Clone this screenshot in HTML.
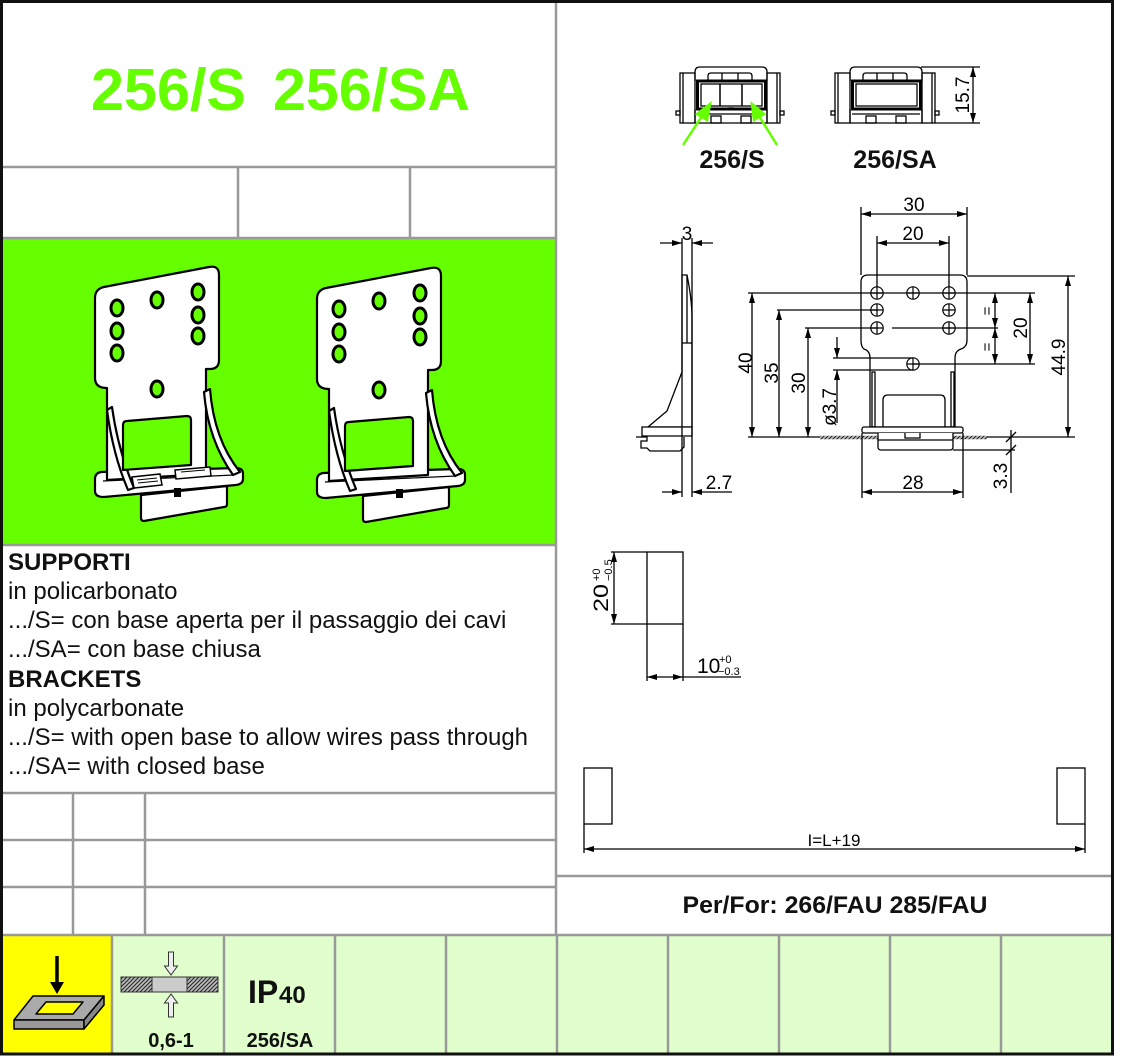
<!DOCTYPE html>
<html><head><meta charset="utf-8"><style>
html,body{margin:0;padding:0;background:#fff}
svg{display:block}
text{font-family:"Liberation Sans",Arial,sans-serif}
</style></head><body>
<svg width="1122" height="1063" viewBox="0 0 1122 1063" xmlns="http://www.w3.org/2000/svg">
<defs>
<marker id="a" viewBox="0 0 10 6" refX="10" refY="3" markerWidth="10" markerHeight="6" orient="auto-start-reverse" markerUnits="userSpaceOnUse"><path d="M0,0 L10,3 L0,6 Z" fill="#000"/></marker>
<pattern id="h" patternUnits="userSpaceOnUse" width="4" height="4"><rect width="4" height="4" fill="#bbb"/><path d="M-1,1 L1,-1 M0,4 L4,0 M3,5 L5,3" stroke="#222" stroke-width="1"/></pattern>
<g id="br" stroke="#000" stroke-width="2.2" stroke-linejoin="round">
 <path d="M141,495 L227,486 L227,504 Q227,507 224,507 L144,521 Q141,521 141,518 Z" fill="#fff"/>
 <path d="M95,479 Q95,473 101,472 L236,468 Q243,468 243,474 L243,479 Q243,484 236,485 L104,497 Q95,497 95,491 Z" fill="#fff"/>
 <path d="M103,481 L234,475" fill="none" stroke-width="1.2"/>
 <path d="M95,298 Q95,289 104,287 L209,267 Q219,265 219,275 L219,360 Q219,369 210,369 L206,369 L206,474 L107,480 L107,388 Q95,388 95,378 Z" fill="#fff"/>
 <path d="M204,392 L210,389 Q214,440 240,472 L233,475 Q208,440 204,392 Z" fill="#fff"/>
 <path d="M107,410 L112,407 Q118,450 134,488 L128,490 Q113,455 107,410 Z" fill="#fff"/>
 <path d="M123,425 Q123,421 127,421 L187,416 Q191,416 191,420 L191,465 L123,470 Z" fill="#66ff00"/>
 <g fill="#66ff00" stroke-width="3">
  <ellipse cx="117" cy="308" rx="6" ry="8"/>
  <ellipse cx="117" cy="331" rx="6" ry="8"/>
  <ellipse cx="117" cy="353" rx="6" ry="8"/>
  <ellipse cx="157" cy="300" rx="6" ry="8"/>
  <ellipse cx="198" cy="292" rx="6" ry="8"/>
  <ellipse cx="198" cy="315" rx="6" ry="8"/>
  <ellipse cx="198" cy="336" rx="6" ry="8"/>
  <ellipse cx="157" cy="389" rx="6" ry="8"/>
 </g>
</g>
<g id="hole" stroke="#000" stroke-width="1.2" fill="none"><circle cx="0" cy="0" r="6.2"/><path d="M-6.2,0 H6.2 M0,-6.2 V6.2"/></g>
</defs>

<rect width="1122" height="1063" fill="#fff"/>

<!-- green photo area -->
<rect x="2" y="238" width="554" height="307" fill="#66ff00"/>
<!-- bottom cells -->
<rect x="112" y="935" width="1000" height="119" fill="#e0ffcc"/>
<rect x="2" y="935" width="110" height="119" fill="#ffff00"/>

<!-- grid lines -->
<g stroke="#999" stroke-width="2.5" fill="none">
 <path d="M556,0 V935"/>
 <path d="M0,167 H556 M238,167 V238 M410,167 V238"/>
 <path d="M0,238 H556 M0,545 H556"/>
 <path d="M0,793 H556 M0,840 H556 M0,887 H556 M73,793 V935 M145,793 V935"/>
 <path d="M556,876 H1112"/>
 <path d="M0,935 H1112"/>
 <path d="M112,935 V1054 M224,935 V1054 M335,935 V1054 M446,935 V1054 M557,935 V1054 M668,935 V1054 M779,935 V1054 M890,935 V1054 M1001,935 V1054"/>
</g>

<!-- title -->
<text x="91" y="110" font-size="59" font-weight="bold" fill="#66ff00" textLength="155" lengthAdjust="spacingAndGlyphs">256/S</text>
<text x="273" y="110" font-size="59" font-weight="bold" fill="#66ff00" textLength="197" lengthAdjust="spacingAndGlyphs">256/SA</text>

<!-- brackets -->
<use href="#br"/>
<g stroke="#000" stroke-width="1.5" fill="#fff">
 <path d="M132,477 L160,474 L162,485 L134,488 Z"/>
 <path d="M175,470 L210,467 L211,476 L176,479 Z"/>
 <path d="M137,480 L157,478 M138,483 L158,481 M181,472 L205,470" fill="none" stroke-width="1"/>
</g>
<rect x="174" y="488" width="7" height="9" fill="#000"/>
<use href="#br" transform="translate(222,1)"/>
<rect x="396" y="489" width="7" height="9" fill="#000"/>

<!-- description -->
<g font-size="24" fill="#111">
 <text x="8" y="570" font-weight="bold">SUPPORTI</text>
 <text x="8" y="599">in policarbonato</text>
 <text x="8" y="628">.../S= con base aperta per il passaggio dei cavi</text>
 <text x="8" y="657">.../SA= con base chiusa</text>
 <text x="8" y="687" font-weight="bold">BRACKETS</text>
 <text x="8" y="716">in polycarbonate</text>
 <text x="8" y="745" textLength="520" lengthAdjust="spacingAndGlyphs">.../S= with open base to allow wires pass through</text>
 <text x="8" y="774">.../SA= with closed base</text>
</g>

<!-- Per/For -->
<text x="835" y="913" font-size="24" font-weight="bold" text-anchor="middle" fill="#111" textLength="305" lengthAdjust="spacingAndGlyphs">Per/For: 266/FAU 285/FAU</text>

<!-- front views top right -->
<g stroke="#000" stroke-width="1.3" fill="none">
 <g id="fv">
  <rect x="680" y="73" width="15" height="50"/>
  <rect x="767" y="73" width="13" height="50"/>
  <path d="M683,73 V123 M777,73 V123"/>
  <rect x="676" y="111" width="4" height="4"/>
  <rect x="780" y="111" width="4" height="4"/>
  <path d="M695,81 V72 Q695,67 700,67 H762 Q767,67 767,72 V81"/>
  <path d="M708,80 V76 Q708,73 711,73 H749 Q752,73 752,76 V80"/>
  <path d="M722,73 V80 M738,73 V80"/>
  <rect x="697.5" y="81" width="68" height="28" stroke-width="3"/>
  <rect x="701" y="84" width="61" height="22"/>
  <path d="M695,109 V123 H767 V109 M697,114 H765"/>
  <rect x="711" y="116" width="10" height="7"/>
  <rect x="741" y="116" width="10" height="7"/>
 </g>
 <path d="M720,84 V106 M742,84 V106 M722,110 Q731,106 740,110" stroke-width="1.5"/>
 <use href="#fv" transform="translate(155,0)"/>
 <!-- 15.7 dim -->
 <path d="M921,67 H980 M935,123 H980"/>
 <path d="M973,67 V123" marker-start="url(#a)" marker-end="url(#a)"/>
</g>
<text transform="translate(969,95) rotate(-90)" font-size="19" text-anchor="middle">15.7</text>
<!-- green arrows -->
<g stroke="#66ff00" stroke-width="2.5" fill="#66ff00">
 <path d="M683,145 L702,116"/>
 <path d="M710,104 L697,114 L707,120 Z"/>
 <path d="M777,145 L759,116"/>
 <path d="M752,104 L754,120 L764,114 Z"/>
</g>
<text x="732" y="168" font-size="25" font-weight="bold" text-anchor="middle" fill="#111">256/S</text>
<text x="895" y="168" font-size="25" font-weight="bold" text-anchor="middle" fill="#111">256/SA</text>

<!-- side view -->
<g stroke="#000" stroke-width="1.3" fill="none">
 <path d="M682,275 H687 Q692,300 692,318 V427 H648 L667,411 L682,372 Z" fill="#fff"/>
 <path d="M687,275 V343 M687,343 H692 M682,343 H687"/>
 <path d="M642,427 H692 V436 H642 Z" fill="#fff"/>
 <path d="M636,437 H647 V441 H641 V448 H647 L650,451 H680 L684,447 V437" fill="#fff"/>
 <path d="M682,238 V497 M692,238 V497"/>
 <path d="M660,243 H682" marker-end="url(#a)"/>
 <path d="M713,243 H692" marker-end="url(#a)"/>
 <path d="M662,492 H682" marker-end="url(#a)"/>
 <path d="M732,492 H692" marker-end="url(#a)"/>
</g>
<text x="687" y="240" font-size="19" text-anchor="middle">3</text>
<text x="719" y="489" font-size="19" text-anchor="middle">2.7</text>

<!-- main front view -->
<g stroke="#000" stroke-width="1.3" fill="none">
 <line x1="820" y1="437.5" x2="987" y2="437.5" stroke="url(#h)" stroke-width="3.5"/>
 <path d="M861,282 Q861,275 868,275 H960 Q967,275 967,282 V340 Q967,347 961,349 Q955,351 955,358 V427 H870 V358 Q870,351 864,349 Q861,347 861,340 Z" fill="#fff"/>
 <rect x="872" y="372" width="3" height="55"/>
 <rect x="951" y="372" width="3" height="55"/>
 <path d="M883,427 V400 Q883,395 888,395 H940 Q945,395 945,400 V427"/>
 <rect x="862" y="427" width="101" height="6" rx="2" fill="#fff"/>
 <path d="M878,433 V447 Q878,450 881,450 H950 Q953,450 953,447 V433 M878,440 H953 M905,433 V438 H920 V433" fill="#fff"/>
 <use href="#hole" x="877" y="293"/>
 <use href="#hole" x="913" y="293"/>
 <use href="#hole" x="949" y="293"/>
 <use href="#hole" x="877" y="310"/>
 <use href="#hole" x="949" y="310"/>
 <use href="#hole" x="877" y="328"/>
 <use href="#hole" x="949" y="328"/>
 <use href="#hole" x="913" y="364"/>
 <!-- extension lines -->
 <path d="M861,207 V275 M967,207 V275 M877,236 V287 M949,236 V287"/>
 <path d="M748,293 H1035 M777,310 H877 M805,328 H877 M892,328 H998 M833,358 H913 M833,370 H913 M913,364 H1035"/>
 <path d="M748,437 H820 M987,437 H1075 M967,276 H1075 M953,450 H1015"/>
 <path d="M862,433 V498 M963,433 V498"/>
 <!-- dimension lines -->
 <path d="M861,214 H967" marker-start="url(#a)" marker-end="url(#a)"/>
 <path d="M877,243 H949" marker-start="url(#a)" marker-end="url(#a)"/>
 <path d="M752,293 V437" marker-start="url(#a)" marker-end="url(#a)"/>
 <path d="M779,310 V437" marker-start="url(#a)" marker-end="url(#a)"/>
 <path d="M808,328 V437" marker-start="url(#a)" marker-end="url(#a)"/>
 <path d="M837,337 V358" marker-end="url(#a)"/>
 <path d="M837,423 V370" marker-end="url(#a)"/>
 <path d="M995,293 V328" marker-start="url(#a)" marker-end="url(#a)"/>
 <path d="M995,328 V364" marker-start="url(#a)" marker-end="url(#a)"/>
 <path d="M1030,293 V364" marker-start="url(#a)" marker-end="url(#a)"/>
 <path d="M1068,276 V437" marker-start="url(#a)" marker-end="url(#a)"/>
 <path d="M1011,430 V493"/>
 <path d="M1006,442 L1016,432 M1006,455 L1016,445"/>
 <path d="M862,492 H963" marker-start="url(#a)" marker-end="url(#a)"/>
</g>
<g font-size="19" text-anchor="middle">
 <text x="914" y="211">30</text>
 <text x="913" y="240">20</text>
 <text x="913" y="489">28</text>
 <text transform="translate(752,363) rotate(-90)">40</text>
 <text transform="translate(778,373) rotate(-90)">35</text>
 <text transform="translate(805,383) rotate(-90)">30</text>
 <text transform="translate(836,407) rotate(-90)">ø3.7</text>
 <text transform="translate(1027,328) rotate(-90)">20</text>
 <text transform="translate(1065,357) rotate(-90)">44.9</text>
 <text transform="translate(1007,476) rotate(-90)">3.3</text>
 <text transform="translate(992,311) rotate(-90)" font-size="15">=</text>
 <text transform="translate(992,347) rotate(-90)" font-size="15">=</text>
</g>

<!-- small cutout drawing -->
<g stroke="#000" stroke-width="1.3" fill="none">
 <rect x="647" y="552" width="36" height="72"/>
 <path d="M611,552 H647 M611,624 H647"/>
 <path d="M614,552 V624" marker-start="url(#a)" marker-end="url(#a)"/>
 <path d="M647,624 V681 M683,624 V681"/>
 <path d="M647,677 H683" marker-start="url(#a)" marker-end="url(#a)"/>
 <path d="M683,677 H741"/>
</g>
<g transform="translate(608,612) rotate(-90)">
 <text x="0" y="0" font-size="21" textLength="28" lengthAdjust="spacingAndGlyphs">20</text>
 <text x="31" y="-8" font-size="11">+0</text>
 <text x="31" y="4" font-size="11">−0.5</text>
</g>
<text x="697" y="673" font-size="21">10</text>
<text x="719" y="663" font-size="11">+0</text>
<text x="718" y="675" font-size="11">−0.3</text>

<!-- long dimension -->
<g stroke="#000" stroke-width="1.3" fill="none">
 <rect x="584" y="768" width="28" height="56"/>
 <rect x="1057" y="768" width="28" height="56"/>
 <path d="M584,824 V853 M1085,824 V853"/>
 <path d="M584,849 H1085" marker-start="url(#a)" marker-end="url(#a)"/>
</g>
<text x="834" y="846" font-size="17" text-anchor="middle">I=L+19</text>

<!-- bottom icons -->
<g stroke="#000" stroke-width="1.5" stroke-linejoin="round">
 <path d="M14,1020 L33,996 H104 L84,1020 Z" fill="#aaa"/>
 <path d="M14,1020 H84 V1029 H14 Z" fill="#999"/>
 <path d="M84,1020 L104,996 V1005 L84,1029 Z" fill="#888"/>
 <path d="M36,1014 L46,1002 H83 L73,1014 Z" fill="#ffff00"/>
</g>
<path d="M57,956 V984" stroke="#000" stroke-width="3.5"/>
<path d="M50,982 H64 L57,994 Z" fill="#000"/>

<g stroke="#333" stroke-width="1">
 <rect x="121" y="977" width="31" height="15" fill="url(#h)"/>
 <rect x="187" y="977" width="31" height="15" fill="url(#h)"/>
 <rect x="152" y="977" width="35" height="15" fill="#ccc"/>
 <path d="M168.5,952 H173.5 V966 H177.5 L171,975 L164.5,966 H168.5 Z" fill="#eee"/>
 <path d="M168.5,1017 H173.5 V1003 H177.5 L171,994 L164.5,1003 H168.5 Z" fill="#eee"/>
</g>
<text x="171" y="1047" font-size="20" font-weight="bold" text-anchor="middle" fill="#111">0,6-1</text>
<text x="248" y="1003" font-size="32" font-weight="bold" fill="#111">IP</text>
<text x="279" y="1003" font-size="24" font-weight="bold" fill="#111">40</text>
<text x="280" y="1047" font-size="20" font-weight="bold" text-anchor="middle" fill="#111">256/SA</text>

<!-- outer frame -->
<rect x="1.5" y="1.5" width="1111" height="1052.5" fill="none" stroke="#111" stroke-width="3"/>
</svg>
</body></html>
